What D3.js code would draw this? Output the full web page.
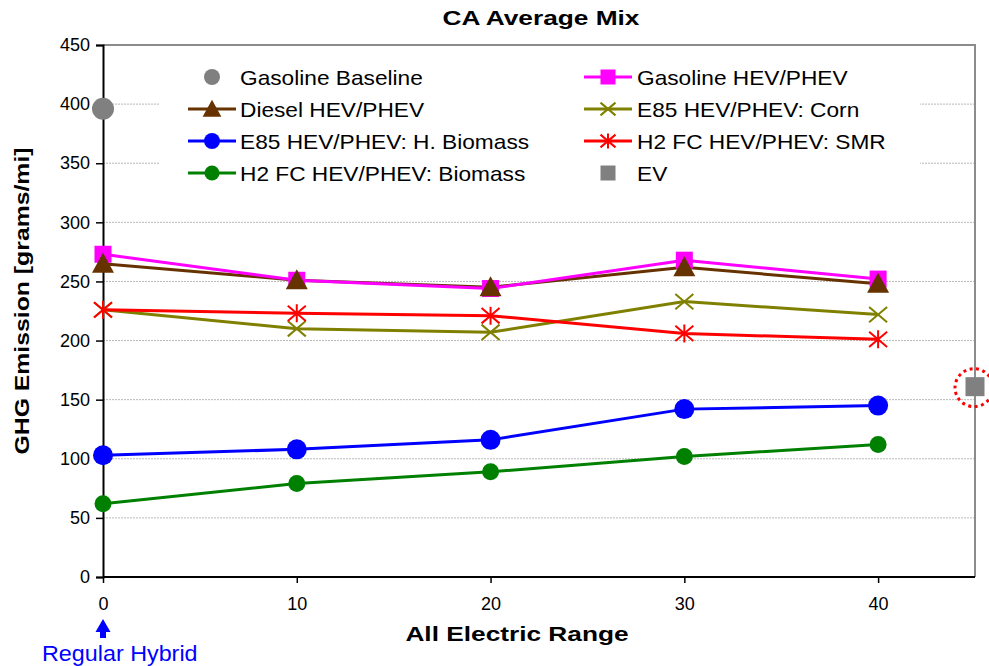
<!DOCTYPE html>
<html><head><meta charset="utf-8">
<script src="https://cdn.jsdelivr.net/npm/d3@7"></script>
<style>body{margin:0;background:#fff}svg{display:block;font-family:"Liberation Sans",Arial,sans-serif}</style>
</head><body><svg id="c" width="989" height="666"></svg>
<script>
const xValues = [0, 10, 20, 30, 40];
const xTicks = [0, 10, 20, 30, 40];
const yTicks = [0, 50, 100, 150, 200, 250, 300, 350, 400, 450];
const gasolineBaseline = [396];
const gasolineHEV = [273, 251, 244, 268, 252];
const dieselHEV = [265, 251, 245, 262, 248];
const e85Corn = [226, 210, 207, 233, 222];
const h2SMR = [226, 223, 221, 206, 201];
const e85HBiomass = [103, 108, 116, 142, 145];
const h2Biomass = [62, 79, 89, 102, 112];
const evX = [45];
const evValue = [161];
const seriesNames = ["Gasoline Baseline","Gasoline HEV/PHEV","Diesel HEV/PHEV","E85 HEV/PHEV: Corn","E85 HEV/PHEV: H. Biomass","H2 FC HEV/PHEV: SMR","H2 FC HEV/PHEV: Biomass","EV"];

const svg = d3.select("#c");
const x = d3.scaleLinear().domain([0,45]).range([103,975]);
const y = d3.scaleLinear().domain([0,450]).range([577,45]);

function stretch(sel, factor){
  sel.each(function(){
    const w = this.getComputedTextLength();
    d3.select(this).attr("textLength", w*factor).attr("lengthAdjust","spacingAndGlyphs");
  });
  return sel;
}

// gridlines
svg.append("g").selectAll("line").data(yTicks.filter(v=>v>0 && v<450)).join("line")
  .attr("x1",x(0)).attr("x2",x(45)).attr("y1",d=>y(d)).attr("y2",d=>y(d))
  .attr("stroke","#b8b8b8").attr("stroke-width",1).attr("stroke-dasharray","2,1");
// plot border top/right
svg.append("path").attr("d",`M${x(0)},${y(450)}H${x(45)}V${y(0)}`).attr("fill","none").attr("stroke","#8c8c8c").attr("stroke-width",2);

// legend background
svg.append("rect").attr("x",160).attr("y",55).attr("width",760).attr("height",138).attr("fill","#fff");

// axes
const yAxis = d3.axisLeft(y).tickValues(yTicks).tickSize(7).tickPadding(6);
const gy = svg.append("g").attr("transform",`translate(${x(0)},0)`).call(yAxis);
gy.select(".domain").attr("stroke","#000").attr("stroke-width",2);
gy.selectAll(".tick line").attr("stroke","#000").attr("stroke-width",1.5);
gy.selectAll(".tick text").attr("font-size",18).attr("fill","#000").attr("font-family","Liberation Sans, Arial, sans-serif");
const xAxis = d3.axisBottom(x).tickValues(xTicks).tickSize(6).tickPadding(14).tickSizeOuter(0);
const gx = svg.append("g").attr("transform",`translate(0,${y(0)})`).call(xAxis);
gx.select(".domain").attr("stroke","#000").attr("stroke-width",2).attr("d",`M${x(0)},0H${x(45)}`);
gx.selectAll(".tick line").attr("stroke","#000").attr("stroke-width",1.5);
gx.selectAll(".tick text").attr("font-size",18).attr("fill","#000").attr("font-family","Liberation Sans, Arial, sans-serif");

// titles
stretch(svg.append("text").attr("x",541).attr("y",25).attr("text-anchor","middle").attr("font-weight","bold").attr("font-size",21).text("CA Average Mix"), 1.25);
stretch(svg.append("text").attr("x",517).attr("y",641).attr("text-anchor","middle").attr("font-weight","bold").attr("font-size",21).text("All Electric Range"), 1.25);
stretch(svg.append("text").attr("transform",`translate(29,301) rotate(-90)`).attr("text-anchor","middle").attr("font-weight","bold").attr("font-size",21).text("GHG Emission [grams/mi]"), 1.18);

// marker drawers
function marker(g, type, color, cx, cy, s){
  if(type==="circle") g.append("circle").attr("cx",cx).attr("cy",cy).attr("r",s).attr("fill",color);
  else if(type==="square") g.append("rect").attr("x",cx-s).attr("y",cy-s).attr("width",2*s).attr("height",2*s).attr("fill",color);
  else if(type==="triangle") g.append("path").attr("d",`M${cx},${cy-s*1.1}L${cx+s*1.1},${cy+s*0.9}L${cx-s*1.1},${cy+s*0.9}Z`).attr("fill",color);
  else if(type==="x") g.append("path").attr("d",`M${cx-s},${cy-s*0.85}L${cx+s},${cy+s*0.85}M${cx-s},${cy+s*0.85}L${cx+s},${cy-s*0.85}`).attr("stroke",color).attr("stroke-width",2);
  else if(type==="star") g.append("path").attr("d",`M${cx-s},${cy-s*0.85}L${cx+s},${cy+s*0.85}M${cx-s},${cy+s*0.85}L${cx+s},${cy-s*0.85}M${cx},${cy-s}V${cy+s}`).attr("stroke",color).attr("stroke-width",2);
}

const series = [
  {name:seriesNames[2], vals:dieselHEV, color:"#663300", m:"triangle", s:10},
  {name:seriesNames[1], vals:gasolineHEV, color:"#ff00ff", m:"square", s:8.5},
  {name:seriesNames[3], vals:e85Corn, color:"#808000", m:"x", s:9},
  {name:seriesNames[5], vals:h2SMR, color:"#ff0000", m:"star", s:9},
  {name:seriesNames[4], vals:e85HBiomass, color:"#0000ff", m:"circle", s:10},
  {name:seriesNames[6], vals:h2Biomass, color:"#008000", m:"circle", s:8.5}
];
const line = d3.line().x((d,i)=>x(xValues[i])).y(d=>y(d));
series.forEach(sr=>{
  svg.append("path").datum(sr.vals).attr("d",line).attr("fill","none").attr("stroke",sr.color).attr("stroke-width",3);
});
[series[2],series[3],series[1],series[0],series[4],series[5]].forEach(sr=>{
  const g = svg.append("g");
  sr.vals.forEach((v,i)=>marker(g, sr.m, sr.color, x(xValues[i]), y(v), sr.s));
});
// gasoline baseline
gasolineBaseline.forEach(v=>svg.append("circle").attr("cx",x(0)).attr("cy",y(v)).attr("r",11).attr("fill","#808080"));
// EV
evValue.forEach((v,i)=>{
  svg.append("rect").attr("x",x(evX[i])-9.5).attr("y",y(v)-9.5).attr("width",19).attr("height",19).attr("fill","#808080");
  svg.append("circle").attr("cx",x(evX[i])-1).attr("cy",y(v)+1).attr("r",19).attr("fill","none").attr("stroke","#ff0000").attr("stroke-width",3).attr("stroke-dasharray","3,3.5");
});

// legend
const leg = [
  {name:seriesNames[0], color:"#808080", m:"circle", s:8, line:false, col:0,row:0},
  {name:seriesNames[1], color:"#ff00ff", m:"square", s:7.5, line:true, col:1,row:0},
  {name:seriesNames[2], color:"#663300", m:"triangle", s:8.5, line:true, col:0,row:1},
  {name:seriesNames[3], color:"#808000", m:"x", s:7.5, line:true, col:1,row:1},
  {name:seriesNames[4], color:"#0000ff", m:"circle", s:8, line:true, col:0,row:2},
  {name:seriesNames[5], color:"#ff0000", m:"star", s:7.5, line:true, col:1,row:2},
  {name:seriesNames[6], color:"#008000", m:"circle", s:7.5, line:true, col:0,row:3},
  {name:seriesNames[7], color:"#808080", m:"square", s:7.5, line:false, col:1,row:3}
];
const colX = [212, 608], textX = [240, 637];
leg.forEach(l=>{
  const cy = 77 + l.row*32, cx = colX[l.col];
  const g = svg.append("g");
  if(l.line) g.append("line").attr("x1",cx-24).attr("x2",cx+24).attr("y1",cy).attr("y2",cy).attr("stroke",l.color).attr("stroke-width",3);
  marker(g, l.m, l.color, cx, cy, l.s);
  stretch(svg.append("text").attr("x",textX[l.col]).attr("y",cy+7.5).attr("font-size",21).text(l.name), 1.08);
});

// Regular Hybrid annotation
svg.append("path").attr("d",`M${x(0)},619L${x(0)+7.5},632H${x(0)+3}V638H${x(0)-3}V632H${x(0)-7.5}Z`).attr("fill","#0000ff");
stretch(svg.append("text").attr("x",42).attr("y",661).attr("font-size",22).attr("fill","#0000ff").text("Regular Hybrid"), 1.06);
</script></body></html>
